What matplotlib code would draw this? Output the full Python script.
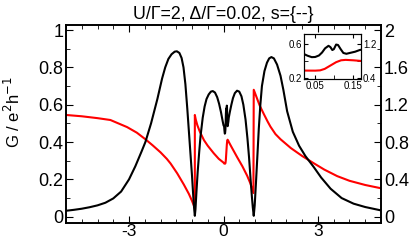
import numpy as np
import matplotlib
matplotlib.use("Agg")
from matplotlib import pyplot as plt
from matplotlib.ticker import MultipleLocator

# conductance G (black, left axis), in e^2/h
g_x = [-5.0, -4.75, -4.5, -4.25, -4.0, -3.75, -3.5, -3.25, -3.0, -2.8, -2.6, -2.48,
       -2.3, -2.1, -1.95, -1.85, -1.75, -1.65, -1.55, -1.48, -1.4, -1.33, -1.27,
       -1.21, -1.15, -1.1, -1.05, -1.0, -0.96, -0.93, -0.91, -0.89, -0.86, -0.82,
       -0.77, -0.73, -0.66, -0.6, -0.54, -0.47, -0.4, -0.34, -0.27, -0.2, -0.14,
       -0.08, -0.03, 0.0, 0.02, 0.03, 0.041, 0.05, 0.06, 0.068, 0.076, 0.085, 0.09,
       0.095, 0.099, 0.105, 0.11, 0.117, 0.124, 0.132, 0.141, 0.155, 0.167,
       0.2, 0.25, 0.3, 0.36, 0.43, 0.5, 0.57, 0.63, 0.7, 0.76, 0.81, 0.86, 0.9,
       0.93, 0.96, 0.99, 1.03, 1.08, 1.12, 1.17, 1.22, 1.3, 1.38, 1.45, 1.52, 1.6,
       1.7, 1.81, 1.9, 2.02, 2.2, 2.4, 2.6, 2.87, 3.1, 3.4, 3.75, 4.13, 4.5, 5.0]
g_y = [0.032, 0.037, 0.043, 0.051, 0.061, 0.075, 0.098, 0.135, 0.20, 0.27, 0.35, 0.40,
       0.50, 0.63, 0.74, 0.80, 0.845, 0.87, 0.884, 0.886, 0.877, 0.85, 0.80,
       0.71, 0.58, 0.46, 0.34, 0.22, 0.11, 0.04, 0.005, 0.04, 0.13, 0.24,
       0.35, 0.43, 0.53, 0.59, 0.63, 0.655, 0.67, 0.673, 0.665, 0.64, 0.605,
       0.56, 0.515, 0.49, 0.483, 0.462, 0.445, 0.447, 0.465, 0.50, 0.55, 0.58, 0.565,
       0.53, 0.54, 0.595, 0.59, 0.54, 0.495, 0.485, 0.495, 0.51, 0.53,
       0.56, 0.60, 0.635, 0.662, 0.675, 0.67, 0.645, 0.60, 0.52, 0.42, 0.32, 0.20, 0.11,
       0.05, 0.005, 0.06, 0.18, 0.34, 0.47, 0.60, 0.70, 0.78, 0.825, 0.848, 0.855, 0.848,
       0.815, 0.755, 0.68, 0.565, 0.455, 0.38, 0.325, 0.265, 0.21, 0.15, 0.10, 0.07, 0.052, 0.034]

# red curve (right axis)
r_x = [-5.0, -4.5, -4.0, -3.59, -3.06, -2.75, -2.48, -2.25, -2.0, -1.8, -1.68, -1.47,
       -1.26, -1.1, -1.0, -0.93, -0.91, -0.91, -0.88, -0.83, -0.75, -0.62, -0.5, -0.31,
       -0.15, 0.0, 0.02, 0.05, 0.063, 0.075, 0.09, 0.105, 0.118, 0.13, 0.15, 0.17,
       0.25, 0.43, 0.6, 0.75, 0.85, 0.95, 0.96, 1.05, 1.15, 1.28, 1.4, 1.49, 1.65,
       1.81, 2.14, 2.5, 2.87, 3.2, 3.61, 4.0, 4.5, 5.0]
r_y = [1.09, 1.076, 1.056, 1.036, 0.96, 0.90, 0.83, 0.765, 0.69, 0.62, 0.57, 0.465,
       0.345, 0.245, 0.17, 0.11, 0.094, 1.09, 1.04, 0.98, 0.91, 0.82, 0.76, 0.68,
       0.62, 0.58, 0.57, 0.568, 0.575, 0.61, 0.69, 0.77, 0.815, 0.825, 0.815, 0.80,
       0.75, 0.64, 0.54, 0.44, 0.36, 0.254, 1.36, 1.28, 1.19, 1.10, 1.02, 0.965, 0.885,
       0.83, 0.735, 0.65, 0.572, 0.505, 0.435, 0.385, 0.34, 0.305]

plt.rcParams['font.family'] = ['Liberation Sans', 'DejaVu Sans']

fig = plt.figure(figsize=(4.11, 2.4), dpi=100)
ax = fig.add_axes([0.1606, 0.072, 0.7664, 0.824])
ax2 = ax.twinx()

ax.plot(g_x, g_y, color="black", lw=1.5, zorder=3)
ax2.plot(r_x, r_y, color="red", lw=1.5)
ax.set_zorder(ax2.get_zorder() + 1)
ax.patch.set_visible(False)

ax.set_xlim(-5, 5)
ax.set_ylim(-0.032, 1.027)
ax2.set_ylim(-0.064, 2.054)
ax.xaxis.set_minor_locator(MultipleLocator(0.5))
ax.yaxis.set_minor_locator(MultipleLocator(0.1))
ax2.yaxis.set_minor_locator(MultipleLocator(0.2))
ax.set_yticks([0, 0.2, 0.4, 0.6, 0.8, 1.0], ["0", "0.2", "0.4", "0.6", "0.8", "1"])
ax2.set_yticks([0, 0.4, 0.8, 1.2, 1.6, 2.0], ["0", "0.4", "0.8", "1.2", "1.6", "2"])
ax.set_xticks([-3, 0, 3], ["-3", "0", "3"])

ax.tick_params(which="both", direction="in", top=True, labelsize=13, pad=2)
ax.tick_params(axis="x", labelsize=12.5, pad=1)
ax.tick_params(which="major", length=5)
ax.tick_params(which="minor", length=3)
ax2.tick_params(which="both", direction="in", labelsize=13, pad=2)
ax2.tick_params(which="major", length=5)
ax2.tick_params(which="minor", length=3)
for a in (ax, ax2):
    for s in a.spines.values():
        s.set_linewidth(1.2)

ax.set_ylabel("G / e$^2$h$^{-1}$", fontsize=12)
ax.yaxis.set_label_coords(-0.135, 0.56)
ax.set_title("U/\u0393=2, \u0394/\u0393=0.02, s={--}", fontsize=12.8, pad=4)

# inset
ins = fig.add_axes([0.740, 0.671, 0.138, 0.187])
ins2 = ins.twinx()
ins.plot(g_x, g_y, color="black", lw=1.5, zorder=3)
ins2.plot(r_x, r_y, color="red", lw=1.5)
ins.set_zorder(ins2.get_zorder() + 1)
ins.patch.set_visible(False)
ins.set_xlim(0.021, 0.17)
ins.set_ylim(0.185, 0.72)
ins2.set_ylim(0.37, 1.44)
ins.set_xticks([0.05, 0.15], ["0.05", "0.15"])
ins.xaxis.set_minor_locator(MultipleLocator(0.05))
ins.set_yticks([0.2, 0.6], ["0.2", "0.6"])
ins.yaxis.set_minor_locator(MultipleLocator(0.2))
ins2.set_yticks([0.4, 1.2], ["0.4", "1.2"])
ins2.yaxis.set_minor_locator(MultipleLocator(0.4))
for a in (ins, ins2):
    a.tick_params(which="both", direction="in", labelsize=7, pad=1.5, length=3)
ins.tick_params(top=True)

fig.savefig("out.png", dpi=100)
